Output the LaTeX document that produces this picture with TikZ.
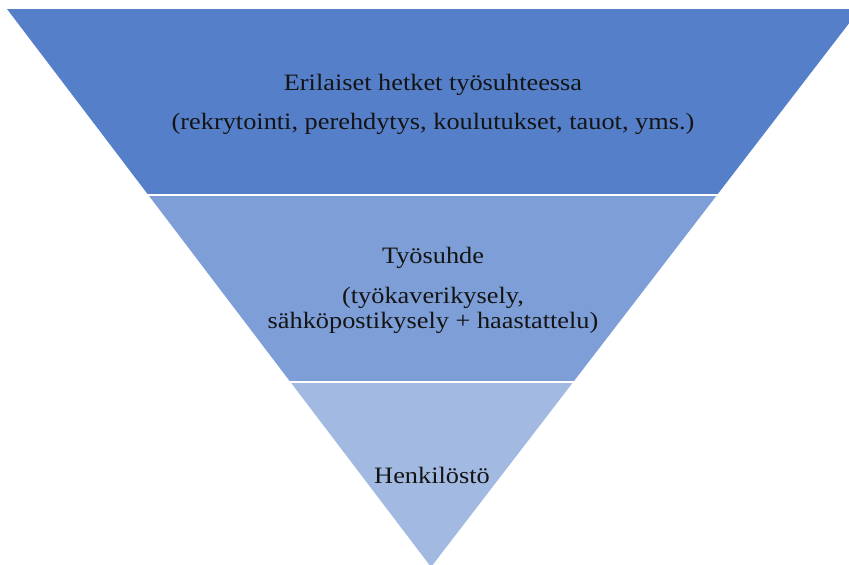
\documentclass[tikz,border=0pt]{standalone}
\usepackage{fontspec}
\setmainfont{Liberation Serif}[FakeStretch=1.12]
\definecolor{bandA}{RGB}{85,128,201}
\definecolor{bandB}{RGB}{125,158,214}
\definecolor{bandC}{RGB}{162,185,226}
\definecolor{txt}{RGB}{20,20,20}
\tikzset{
  lbl/.style={anchor=base, inner sep=0pt, text=txt, font=\fontsize{23.5}{27}\selectfont},
}
\begin{document}
\begin{tikzpicture}[x=1pt,y=-1pt]
\useasboundingbox (0,0) rectangle (849,565);
\coordinate (tl) at (7,9);
\coordinate (tr) at (860,9);
\coordinate (apex) at (431,567);
\begin{scope}
  \clip (0,0) rectangle (849,193.5);
  \fill[bandA] (tl) -- (tr) -- (apex) -- cycle;
\end{scope}
\begin{scope}
  \clip (0,196.5) rectangle (849,380);
  \fill[bandB] (tl) -- (tr) -- (apex) -- cycle;
\end{scope}
\begin{scope}
  \clip (0,383) rectangle (849,565);
  \fill[bandC] (tl) -- (tr) -- (apex) -- cycle;
\end{scope}
\node[lbl] (a1) at (433,90) {Erilaiset hetket työsuhteessa};
\node[lbl] (a2) at (433,129) {(rekrytointi, perehdytys, koulutukset, tauot, yms.)};
\node[lbl] (b1) at (433,263) {Työsuhde};
\node[lbl] (b2) at (433,303) {(työkaverikysely,};
\node[lbl] (b3) at (433,328) {sähköpostikysely + haastattelu)};
\node[lbl] (c1) at (432,483) {Henkilöstö};
\end{tikzpicture}
\end{document}
